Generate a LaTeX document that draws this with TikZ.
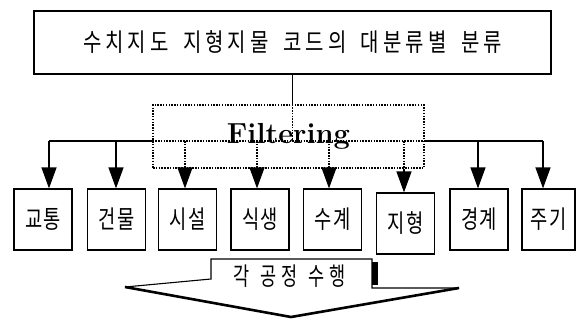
\documentclass[tikz,border=0pt]{standalone}
\usepackage{fontspec}
\usetikzlibrary{arrows.meta}
\newfontfamily\krtitle[LetterSpace=16,FakeStretch=0.8]{Noto Sans CJK KR}
\newfontfamily\krbox[LetterSpace=5,FakeStretch=0.75]{Noto Sans CJK KR}
\newfontfamily\krstep[LetterSpace=20,FakeStretch=0.7]{Noto Sans CJK KR}
\tikzset{
  line/.style={line width=1.2pt},
  dotline/.style={line width=1.1pt, dash pattern=on 1.5pt off 1.3pt},
  arr/.style={line width=1.2pt, -{Triangle[width=15pt,length=21pt]}},
  catbox/.style={draw, line width=1.2pt, minimum width=58pt, minimum height=61pt, inner sep=0pt,
     font=\krbox\fontsize{25}{27}\selectfont},
}
\begin{document}
\begin{tikzpicture}[x=1pt,y=-1pt]
\useasboundingbox (0,0) rectangle (579,321);
% title box
\node[draw, line width=1.3pt, minimum width=517pt, minimum height=63pt, inner sep=0pt,
  font=\krtitle\fontsize{25}{27}\selectfont] (top) at (292.5,42.5)
  {수치지도\hspace{6pt} 지형지물\hspace{6pt} 코드의\hspace{6pt} 대분류별\hspace{6pt} 분류};
% filtering box
\node[draw, dotline, minimum width=271pt, minimum height=63pt, inner sep=0pt,
  font=\fontsize{29}{30}\selectfont\bfseries] (filt) at (288.5,136.5) {Filtering};
% category boxes
\node[catbox] (b1) at (43,219.5) {교통};
\node[catbox] (b2) at (116.5,219.5) {건물};
\node[catbox] (b3) at (187.5,219.5) {시설};
\node[catbox] (b4) at (260,219.5) {식생};
\node[catbox] (b5) at (332.5,219.5) {수계};
\node[catbox] (b6) at (405.5,223.5) {지형};
\node[catbox] (b7) at (479,219.5) {경계};
\node[catbox, minimum width=53pt] (b8) at (548.5,219.5) {주기};
% junction coordinates on the distribution line
\coordinate (j1) at (49,141);
\coordinate (j2) at (116,141);
\coordinate (j3) at (185,141);
\coordinate (j4) at (257,141);
\coordinate (j5) at (329,141);
\coordinate (j6) at (404,141);
\coordinate (j7) at (478,141);
\coordinate (j8) at (543,141);
\coordinate (jc) at (top.south |- j1);
% stem from title box
\draw[line] (top.south) -- (top.south |- filt.north);
\draw[dotline] (top.south |- filt.north) -- (jc);
% distribution line
\draw[line] (j1) -- (filt.west |- j1);
\draw[dotline] (filt.west |- j1) -- (filt.east |- j1);
\draw[line] (filt.east |- j1) -- (j8);
% outer arrows
\draw[arr] (j1) -- (j1 |- b1.north);
\draw[arr] (j2) -- (j2 |- b2.north);
\draw[arr] (j7) -- (j7 |- b7.north);
\draw[arr] (j8) -- (j8 |- b8.north);
% inner arrows (dotted inside the filtering box)
\foreach \j/\b in {j3/b3, j4/b4, j5/b5, j6/b6}{
  \draw[dotline] (\j) -- (\j |- filt.south);
  \draw[arr] (\j |- filt.south) -- (\j |- \b.north);
}
% process arrow
\fill[white] (211,259) -- (372,259) -- (372,288) -- (459,288) -- (291,318) -- (125,287) -- (211,279) -- cycle;
\draw[line width=1.1pt] (125,287) -- (211,279) -- (211,259) -- (372,259) -- (372,288) -- (459,288);
\draw[line width=2.6pt, line join=miter] (459,288) -- (291,317) -- (125,287);
\fill (372,262) rectangle (378,285);
\node[font=\krstep\fontsize{25}{27}\selectfont, inner sep=0pt] (step) at (289.5,276) {각\hspace{2pt} 공정\hspace{2pt} 수행};
\end{tikzpicture}
\end{document}
